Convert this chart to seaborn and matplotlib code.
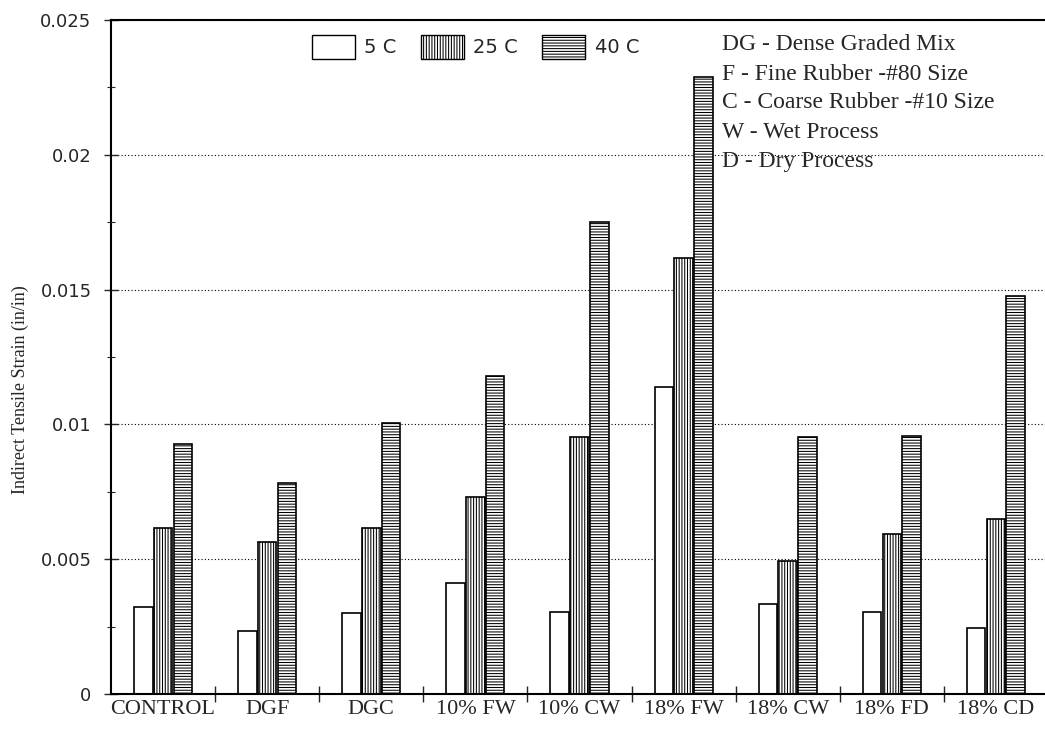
import numpy as np
import pandas as pd
import matplotlib
matplotlib.use("Agg")
import matplotlib.pyplot as plt
import seaborn as sns
from matplotlib.patches import Patch
from matplotlib.ticker import MultipleLocator, FixedLocator

categories = ["CONTROL", "DGF", "DGC", "10% FW", "10% CW", "18% FW", "18% CW", "18% FD", "18% CD"]
temps = ["5 C", "25 C", "40 C"]
strain_5c = [0.00323, 0.00234, 0.00300, 0.00410, 0.00304, 0.01138, 0.00332, 0.00303, 0.00243]
strain_25c = [0.00616, 0.00564, 0.00616, 0.00731, 0.00953, 0.01618, 0.00493, 0.00593, 0.00648]
strain_40c = [0.00927, 0.00783, 0.01005, 0.01178, 0.01752, 0.02290, 0.00953, 0.00958, 0.01475]
y_ticks = [0, 0.005, 0.01, 0.015, 0.02, 0.025]
y_tick_labels = ["0", "0.005", "0.01", "0.015", "0.02", "0.025"]
notes = ["DG - Dense Graded Mix", "F - Fine Rubber -#80 Size", "C - Coarse Rubber -#10 Size",
         "W - Wet Process", "D - Dry Process"]
hatches = ["", "||||||", "------"]

df = pd.DataFrame({
    "mix": categories * 3,
    "temp": [temps[0]] * 9 + [temps[1]] * 9 + [temps[2]] * 9,
    "strain": strain_5c + strain_25c + strain_40c,
})

sns.set_style("ticks")
plt.rcParams["hatch.linewidth"] = 0.75
plt.rcParams["hatch.color"] = "black"

fig = plt.figure(figsize=(10.45, 7.29), dpi=100)
ax = fig.add_axes([111 / 1045, 35 / 729, 937 / 1045, 674 / 729])

sns.barplot(data=df, x="mix", y="strain", hue="temp", order=categories, hue_order=temps,
            palette=["white"] * 3, saturation=1, width=0.57, gap=0.06,
            edgecolor="black", linewidth=1.2, legend=False, ax=ax, errorbar=None)

for cont, h in zip(ax.containers, hatches):
    for bar in cont:
        bar.set_hatch(h)
        bar.set_facecolor("white")
        bar.set_edgecolor("black")

ax.set_xlim(-0.5, 8.5)
ax.set_ylim(0, 0.025)
ax.set_axisbelow(True)
ax.grid(axis="y", linestyle=(0, (1, 2)), color="black", linewidth=0.8)

ax.set_yticks(y_ticks)
ax.set_yticklabels(y_tick_labels, fontfamily="DejaVu Sans", fontsize=13)
ax.yaxis.set_minor_locator(MultipleLocator(0.0025))
ax.tick_params(axis="y", which="major", direction="inout", length=10, width=1, pad=9, left=True)
ax.tick_params(axis="y", which="minor", direction="inout", length=6, width=0.8, left=True)

ax.set_xticks(range(len(categories)))
ax.set_xticklabels(categories, fontfamily="Liberation Serif", fontsize=16)
ax.xaxis.set_minor_locator(FixedLocator([i + 0.5 for i in range(len(categories) - 1)]))
ax.tick_params(axis="x", which="major", length=0, pad=4, bottom=True)
ax.tick_params(axis="x", which="minor", direction="inout", length=11, width=1, bottom=True)

ax.set_xlabel("")
ax.set_ylabel("Indirect Tensile Strain (in/in)", fontfamily="Liberation Serif", fontsize=13)
ax.yaxis.set_label_coords(-0.087, 0.451)

for side in ["left", "bottom", "top"]:
    ax.spines[side].set_visible(True)
    ax.spines[side].set_color("black")
    ax.spines[side].set_linewidth(1.5)
ax.spines["right"].set_visible(False)

handles = [Patch(facecolor="white", edgecolor="black", hatch=h, linewidth=1) for h in hatches]
fig.legend(handles, temps, loc="center left", bbox_to_anchor=(312 / 1045, 1 - 47 / 729),
           ncol=3, frameon=False, handlelength=2.2, handleheight=1.45, handletextpad=0.5,
           columnspacing=1.24, borderpad=0, borderaxespad=0,
           prop={"family": "DejaVu Sans", "size": 14})

for i, t in enumerate(notes):
    fig.text(722 / 1045, 1 - (45 + 29 * i) / 729, t, ha="left", va="center",
             fontfamily="Liberation Serif", fontsize=17)

fig.savefig("out.png", dpi=100)
